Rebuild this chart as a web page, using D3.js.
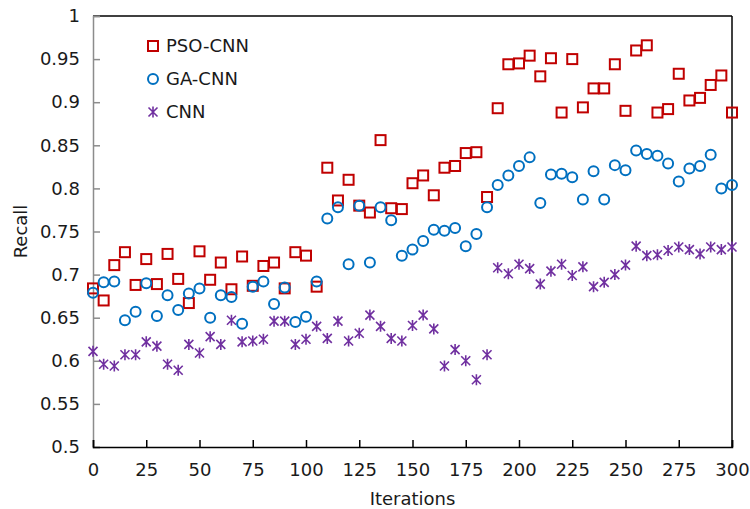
<!DOCTYPE html>
<html>
<head>
<meta charset="utf-8">
<script src="https://cdn.jsdelivr.net/npm/d3@7"></script>
<style>
  body { margin: 0; background: #fff; }
  svg text { font-family: "DejaVu Sans", Verdana, sans-serif; fill: #1a1a1a; }
</style>
</head>
<body>
<svg id="chart"></svg>
<script>
// iterations (x) and the three recall series
var iterations = [0, 5, 10, 15, 20, 25, 30, 35, 40, 45, 50, 55, 60, 65, 70, 75, 80, 85, 90, 95,
  100, 105, 110, 115, 120, 125, 130, 135, 140, 145, 150, 155, 160, 165, 170, 175, 180, 185, 190, 195,
  200, 205, 210, 215, 220, 225, 230, 235, 240, 245, 250, 255, 260, 265, 270, 275, 280, 285, 290, 295, 300];

var psoCnn = [0.684, 0.670, 0.711, 0.726, 0.688, 0.718, 0.689, 0.724, 0.695, 0.667,
  0.727, 0.694, 0.714, 0.683, 0.721, 0.687, 0.710, 0.714, 0.684, 0.726,
  0.722, 0.686, 0.824, 0.786, 0.810, 0.780, 0.772, 0.856, 0.777, 0.776,
  0.806, 0.815, 0.792, 0.824, 0.826, 0.841, 0.842, 0.790, 0.893, 0.944,
  0.945, 0.954, 0.930, 0.951, 0.888, 0.950, 0.894, 0.916, 0.916, 0.944,
  0.890, 0.960, 0.966, 0.888, 0.892, 0.933, 0.902, 0.905, 0.920, 0.931, 0.888];

var gaCnn = [0.679, 0.691, 0.692, 0.647, 0.657, 0.690, 0.652, 0.676, 0.659, 0.678,
  0.684, 0.650, 0.676, 0.674, 0.643, 0.686, 0.692, 0.666, 0.685, 0.645,
  0.651, 0.692, 0.765, 0.778, 0.712, 0.780, 0.714, 0.778, 0.763, 0.722,
  0.729, 0.739, 0.752, 0.751, 0.754, 0.733, 0.747, 0.778, 0.804, 0.815,
  0.826, 0.836, 0.783, 0.816, 0.817, 0.813, 0.787, 0.820, 0.787, 0.827,
  0.821, 0.844, 0.840, 0.838, 0.829, 0.808, 0.823, 0.826, 0.839, 0.800, 0.804];

var cnn = [0.611, 0.596, 0.594, 0.607, 0.607, 0.622, 0.617, 0.596, 0.589, 0.619,
  0.609, 0.628, 0.619, 0.647, 0.622, 0.623, 0.625, 0.646, 0.646, 0.619,
  0.625, 0.640, 0.626, 0.646, 0.623, 0.632, 0.653, 0.640, 0.626, 0.623,
  0.641, 0.653, 0.637, 0.594, 0.613, 0.600, 0.578, 0.607, 0.708, 0.701,
  0.712, 0.707, 0.689, 0.704, 0.712, 0.699, 0.709, 0.686, 0.691, 0.700,
  0.711, 0.733, 0.722, 0.723, 0.728, 0.732, 0.729, 0.724, 0.732, 0.729, 0.732];

var seriesNames = ["PSO-CNN", "GA-CNN", "CNN"],
  seriesColors = ["#c00000", "#0070c0", "#7030a0"],
  xTicks = [0, 25, 50, 75, 100, 125, 150, 175, 200, 225, 250, 275, 300],
  yTicks = [0.5, 0.55, 0.6, 0.65, 0.7, 0.75, 0.8, 0.85, 0.9, 0.95, 1];

var width = 750,
  height = 509,
  margin = {top: 16, right: 18, bottom: 62, left: 93},
  plotW = width - margin.left - margin.right,
  plotH = height - margin.top - margin.bottom;

var svg = d3.select("#chart")
  .attr("width", width)
  .attr("height", height);

var g = svg.append("g")
  .attr("transform", "translate(" + margin.left + "," + margin.top + ")");

var x = d3.scaleLinear().domain([0, 300]).range([0, plotW]),
  y = d3.scaleLinear().domain([0.5, 1]).range([plotH, 0]);

// frame: top and right in black
g.append("line").attr("x1", 0).attr("x2", plotW).attr("y1", 0).attr("y2", 0)
  .attr("stroke", "#000").attr("stroke-width", 1.5);
g.append("line").attr("x1", plotW).attr("x2", plotW).attr("y1", 0).attr("y2", plotH)
  .attr("stroke", "#000").attr("stroke-width", 1.5);

// y axis in grey
var yAxis = g.append("g")
  .call(d3.axisLeft(y).tickValues(yTicks).tickSize(-7).tickPadding(13).tickFormat(function(d){ return d3.format("")(+d.toFixed(2)); }));
yAxis.select(".domain").attr("stroke", "#8c8c8c").attr("stroke-width", 1.5);
yAxis.selectAll(".tick line").attr("stroke", "#8c8c8c").attr("stroke-width", 1.5);
yAxis.selectAll(".tick text").attr("font-size", 18).attr("font-family", null).attr("fill", "#1a1a1a");

// x axis, ticks pointing inward, drawn over the grey one at the corner
var xAxis = g.append("g")
  .attr("transform", "translate(0," + plotH + ")")
  .call(d3.axisBottom(x).tickValues(xTicks).tickSize(-7).tickPadding(16).tickFormat(d3.format("d")));
xAxis.select(".domain").attr("stroke", "#000").attr("stroke-width", 1.5);
xAxis.selectAll(".tick line").attr("stroke", "#000").attr("stroke-width", 1.5);
xAxis.selectAll(".tick text").attr("font-size", 18).attr("font-family", null).attr("fill", "#1a1a1a");

// axis titles
svg.append("text")
  .attr("x", margin.left + plotW / 2)
  .attr("y", 505)
  .attr("text-anchor", "middle")
  .attr("font-size", 18)
  .text("Iterations");

svg.append("text")
  .attr("transform", "translate(27," + (margin.top + plotH / 2) + ")rotate(-90)")
  .attr("text-anchor", "middle")
  .attr("font-size", 18)
  .text("Recall");

// marker drawing helpers
function drawSquare(sel, color){
  sel.append("rect")
    .attr("x", -5).attr("y", -5).attr("width", 10).attr("height", 10)
    .attr("fill", "none").attr("stroke", color).attr("stroke-width", 2);
}

function drawCircle(sel, color){
  sel.append("circle")
    .attr("r", 5)
    .attr("fill", "none").attr("stroke", color).attr("stroke-width", 2);
}

function drawStar(sel, color){
  sel.append("path")
    .attr("d", "M0,-5.5V5.5M-4.5,-4.5L4.5,4.5M-4.5,4.5L4.5,-4.5")
    .attr("fill", "none").attr("stroke", color).attr("stroke-width", 1.6);
}

var drawers = [drawSquare, drawCircle, drawStar],
  allSeries = [psoCnn, gaCnn, cnn];

allSeries.forEach(function(values, s){
  g.append("g")
    .attr("class", "series")
    .selectAll("g")
    .data(values).enter()
    .append("g")
    .attr("transform", function(d, i){ return "translate(" + x(iterations[i]) + "," + y(d) + ")"; })
    .call(drawers[s], seriesColors[s]);
});

// legend
var legend = svg.append("g")
  .attr("transform", "translate(153,46)");

seriesNames.forEach(function(name, i){
  var row = legend.append("g")
    .attr("transform", "translate(0," + (i * 33) + ")");
  row.append("g").call(drawers[i], seriesColors[i]);
  row.append("text")
    .attr("x", 13)
    .attr("dy", "0.36em")
    .attr("font-size", 18)
    .text(name);
});
</script>
</body>
</html>
